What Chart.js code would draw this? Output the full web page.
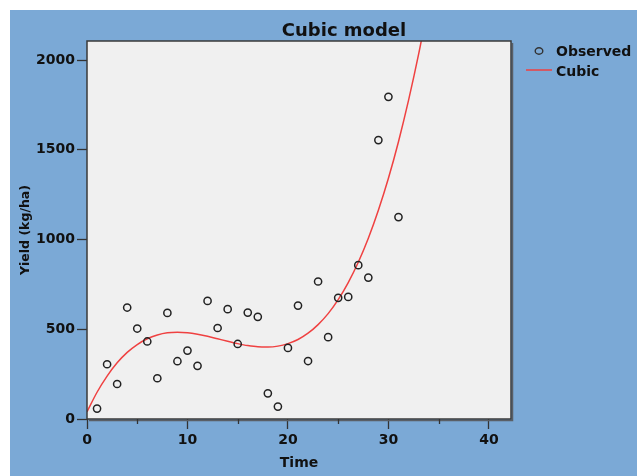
<!DOCTYPE html>
<html>
<head>
<meta charset="utf-8">
<script src="https://cdn.jsdelivr.net/npm/chart.js@4/dist/chart.umd.min.js"></script>
<style>
  html, body { margin: 0; padding: 0; background: #fff; }
  canvas { display: block; }
</style>
</head>
<body>
<canvas id="chart" width="637" height="476"></canvas>
<script>
// observed yields, one per time step
const time = [1, 2, 3, 4, 5, 6, 7, 8, 9, 10, 11, 12, 13, 14, 15, 16, 17, 18, 19, 20, 21, 22, 23, 24, 25, 26, 27, 28, 29, 30, 31];
const observed = [58, 305, 195, 621, 504, 432, 227, 591, 322, 381, 296, 658, 507, 612, 418, 593, 569, 143, 69, 396, 632, 323, 766, 456, 675, 680, 857, 788, 1554, 1795, 1125];

// cubic curve
const fitTime = [0, 1, 2, 3, 4, 5, 6, 7, 8, 9, 10, 11, 12, 13, 14, 15, 16, 17, 18, 19, 20, 21, 22, 23, 24, 25, 26, 27, 28, 29, 30, 31, 32, 33, 34];
const fitYield = [40, 149, 239, 313, 371, 415, 447, 468, 480, 483, 480, 472, 461, 447, 433, 420, 409, 402, 401, 406, 420, 443, 478, 526, 587, 665, 760, 873, 1007, 1163, 1341, 1545, 1775, 2031, 2317];

const xTicks = [0, 10, 20, 30, 40];
const xMinorTicks = [5, 15, 25, 35];
const yTicks = [0, 500, 1000, 1500, 2000];

const FONT = "'DejaVu Sans', sans-serif";
const BLUE = '#7ba9d6';
const RED = '#ef4141';

const frame = {
  id: 'frame',
  beforeDraw(chart) {
    const { ctx, chartArea: a } = chart;
    ctx.save();
    ctx.fillStyle = '#ffffff';
    ctx.fillRect(0, 0, chart.width, chart.height);
    ctx.fillStyle = BLUE;
    ctx.fillRect(10, 10, chart.width - 10, chart.height - 10);
    ctx.fillStyle = '#f0f0f0';
    ctx.fillRect(a.left, a.top, a.right - a.left, a.bottom - a.top);
    ctx.restore();
  },
  afterDraw(chart) {
    const { ctx, chartArea: a } = chart;
    const xs = chart.scales.x;
    ctx.save();
    // box round the plot, with a little shadow
    ctx.strokeStyle = '#5a5f66';
    ctx.lineWidth = 1.5;
    ctx.beginPath();
    ctx.moveTo(a.right + 1.5, a.top + 2);
    ctx.lineTo(a.right + 1.5, a.bottom + 1.5);
    ctx.lineTo(a.left + 2, a.bottom + 1.5);
    ctx.stroke();
    ctx.strokeStyle = '#3a3a3a';
    ctx.strokeRect(a.left, a.top, a.right - a.left, a.bottom - a.top);

    // minor ticks on the time axis
    ctx.lineWidth = 1.3;
    ctx.strokeStyle = '#333';
    xMinorTicks.forEach(v => {
      const px = Math.round(xs.getPixelForValue(v)) + 0.5;
      ctx.beginPath();
      ctx.moveTo(px, a.bottom);
      ctx.lineTo(px, a.bottom + 5);
      ctx.stroke();
    });

    // title
    ctx.fillStyle = '#111';
    ctx.font = 'bold 18px ' + FONT;
    ctx.textAlign = 'center';
    ctx.textBaseline = 'middle';
    ctx.fillText('Cubic model', 344, 31);

    // legend
    ctx.font = 'bold 14px ' + FONT;
    ctx.textAlign = 'left';
    ctx.strokeStyle = '#333';
    ctx.lineWidth = 1.4;
    ctx.beginPath();
    ctx.ellipse(539, 51, 3.8, 3.2, 0, 0, Math.PI * 2);
    ctx.stroke();
    ctx.fillText('Observed', 556, 52);
    ctx.strokeStyle = RED;
    ctx.lineWidth = 1.5;
    ctx.beginPath();
    ctx.moveTo(526, 70);
    ctx.lineTo(552, 70);
    ctx.stroke();
    ctx.fillText('Cubic', 556, 72);
    ctx.restore();
  }
};

new Chart(document.getElementById('chart'), {
  type: 'scatter',
  data: {
    datasets: [
      {
        label: 'Observed',
        data: time.map((t, i) => ({ x: t, y: observed[i] })),
        pointStyle: 'circle',
        pointRadius: 3.6,
        pointBorderWidth: 1.5,
        pointBorderColor: '#222',
        pointBackgroundColor: 'rgba(0,0,0,0)',
        showLine: false,
        order: 1
      },
      {
        label: 'Cubic',
        data: fitTime.map((t, i) => ({ x: t, y: fitYield[i] })),
        showLine: true,
        borderColor: RED,
        borderWidth: 1.5,
        pointRadius: 0,
        cubicInterpolationMode: 'monotone',
        order: 2
      }
    ]
  },
  options: {
    responsive: false,
    animation: false,
    layout: { padding: { left: 10, top: 41, right: 126, bottom: 0 } },
    plugins: {
      legend: { display: false },
      tooltip: { enabled: false },
      title: { display: false }
    },
    scales: {
      x: {
        type: 'linear',
        min: 0,
        max: 42.2,
        afterFit(scale) { scale.height = 57; },
        afterBuildTicks(scale) { scale.ticks = xTicks.map(v => ({ value: v })); },
        grid: { drawOnChartArea: false, tickLength: 10, tickColor: '#333', tickWidth: 1.3 },
        border: { display: false },
        ticks: {
          includeBounds: false,
          padding: 3,
          color: '#111',
          callback: v => String(v),
          font: { family: FONT, size: 14, weight: 'bold' }
        },
        title: {
          display: true,
          text: 'Time',
          color: '#111',
          padding: { top: 4, bottom: 4 },
          font: { family: FONT, size: 14, weight: 'bold' }
        }
      },
      y: {
        type: 'linear',
        min: 0,
        max: 2106,
        afterFit(scale) { scale.width = 77; },
        afterBuildTicks(scale) { scale.ticks = yTicks.map(v => ({ value: v })); },
        grid: { drawOnChartArea: false, tickLength: 10, tickColor: '#333', tickWidth: 1.3 },
        border: { display: false },
        ticks: {
          includeBounds: false,
          padding: 2,
          color: '#111',
          callback: v => String(v),
          font: { family: FONT, size: 14, weight: 'bold' }
        },
        title: {
          display: true,
          text: 'Yield (kg/ha)',
          color: '#111',
          padding: { top: 8, bottom: 8 },
          font: { family: FONT, size: 12.5, weight: 'bold' }
        }
      }
    }
  },
  plugins: [frame]
});
</script>
</body>
</html>
